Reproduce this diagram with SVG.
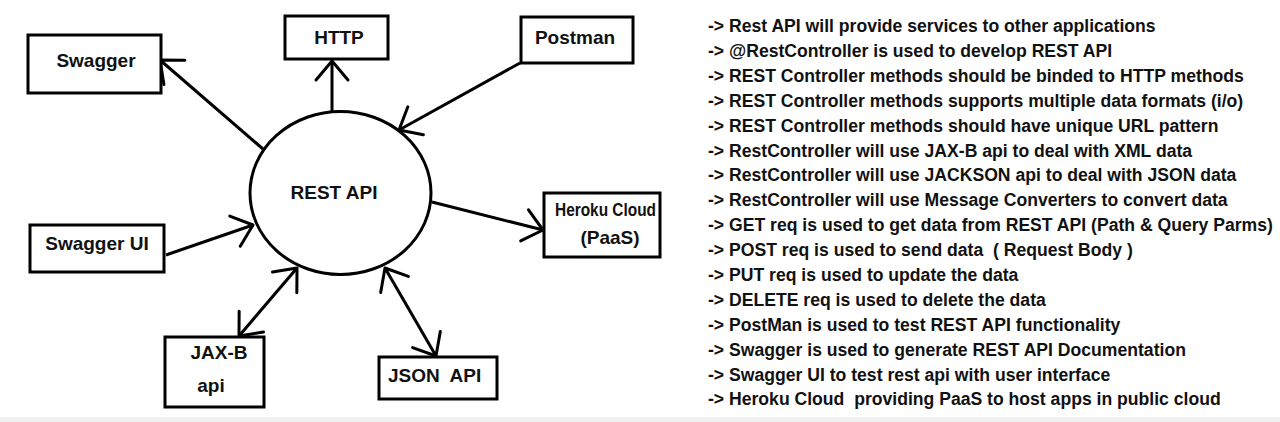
<svg xmlns="http://www.w3.org/2000/svg" width="1280" height="422" viewBox="0 0 1280 422">
<defs>
<style>
.box{fill:#fff;stroke:#000;stroke-width:3}
.lbl{font-family:"Liberation Sans",Arial,sans-serif;font-weight:bold;font-size:19px;fill:#111}
.note{font-family:"Liberation Sans",Arial,sans-serif;font-weight:bold;font-size:17.6px;fill:#111}
.con{fill:none;stroke:#000;stroke-width:3}
</style>
<marker id="chev" markerUnits="userSpaceOnUse" markerWidth="40" markerHeight="40" refX="0" refY="0" viewBox="-20 -20 40 40" orient="auto-start-reverse" overflow="visible">
<path d="M -19 -16 L 0 0 L -19 16" fill="none" stroke="#000" stroke-width="3" stroke-linecap="round" stroke-linejoin="round"/>
</marker>
</defs>
<rect x="0" y="0" width="1280" height="422" fill="#fff"/>
<rect x="0" y="417" width="1280" height="5" fill="#f0f0f0"/>

<g id="connectors">
<path class="con" d="M263 149 L160 60" marker-end="url(#chev)"/>
<path class="con" d="M332 112 L332 61" marker-end="url(#chev)"/>
<path class="con" d="M520 63 L399 130" marker-end="url(#chev)"/>
<path class="con" d="M432 202 L543 230" marker-end="url(#chev)"/>
<path class="con" d="M166 255 L253 225" marker-end="url(#chev)"/>
<path class="con" d="M239 336 L297 268" marker-start="url(#chev)" marker-end="url(#chev)"/>
<path class="con" d="M385 268 L436 356" marker-start="url(#chev)" marker-end="url(#chev)"/>
</g>

<g id="rest-api">
<ellipse class="box" cx="340.5" cy="193" rx="90.5" ry="81.5"/>
<text class="lbl" x="334" y="199" text-anchor="middle">REST API</text>
</g>
<g id="swagger">
<rect class="box" x="28" y="35" width="133" height="58"/>
<text class="lbl" x="96" y="67" text-anchor="middle">Swagger</text>
</g>
<g id="http">
<rect class="box" x="285" y="16" width="103" height="43"/>
<text class="lbl" x="339" y="44" text-anchor="middle">HTTP</text>
</g>
<g id="postman">
<rect class="box" x="521" y="17" width="112" height="46"/>
<text class="lbl" x="575" y="44" text-anchor="middle">Postman</text>
</g>
<g id="heroku">
<rect class="box" x="544" y="193" width="116" height="64"/>
<text class="lbl" x="555" y="216" style="font-size:18.5px" textLength="101" lengthAdjust="spacingAndGlyphs">Heroku Cloud</text>
<text class="lbl" x="610" y="244" text-anchor="middle">(PaaS)</text>
</g>
<g id="swagger-ui">
<rect class="box" x="30" y="225" width="134" height="47"/>
<text class="lbl" x="97" y="250" text-anchor="middle">Swagger UI</text>
</g>
<g id="jaxb">
<rect class="box" x="165" y="337" width="99" height="70"/>
<text class="lbl" x="219" y="359" text-anchor="middle">JAX-B</text>
<text class="lbl" x="211" y="392" text-anchor="middle">api</text>
</g>
<g id="json-api">
<rect class="box" x="379" y="357" width="118" height="42"/>
<text class="lbl" x="388" y="382">JSON&#160; API</text>
</g>

<g id="notes" class="note">
<text x="708" y="32">-&gt; Rest API will provide services to other applications</text>
<text x="708" y="57">-&gt; @RestController is used to develop REST API</text>
<text x="708" y="82">-&gt; REST Controller methods should be binded to HTTP methods</text>
<text x="708" y="107">-&gt; REST Controller methods supports multiple data formats (i/o)</text>
<text x="708" y="132">-&gt; REST Controller methods should have unique URL pattern</text>
<text x="708" y="157">-&gt; RestController will use JAX-B api to deal with XML data</text>
<text x="708" y="181">-&gt; RestController will use JACKSON api to deal with JSON data</text>
<text x="708" y="206">-&gt; RestController will use Message Converters to convert data</text>
<text x="708" y="231">-&gt; GET req is used to get data from REST API (Path &amp; Query Parms)</text>
<text x="708" y="256">-&gt; POST req is used to send data&#160; ( Request Body )</text>
<text x="708" y="281">-&gt; PUT req is used to update the data</text>
<text x="708" y="306">-&gt; DELETE req is used to delete the data</text>
<text x="708" y="331">-&gt; PostMan is used to test REST API functionality</text>
<text x="708" y="356">-&gt; Swagger is used to generate REST API Documentation</text>
<text x="708" y="381">-&gt; Swagger UI to test rest api with user interface</text>
<text x="708" y="405">-&gt; Heroku Cloud&#160; providing PaaS to host apps in public cloud</text>
</g>
</svg>
